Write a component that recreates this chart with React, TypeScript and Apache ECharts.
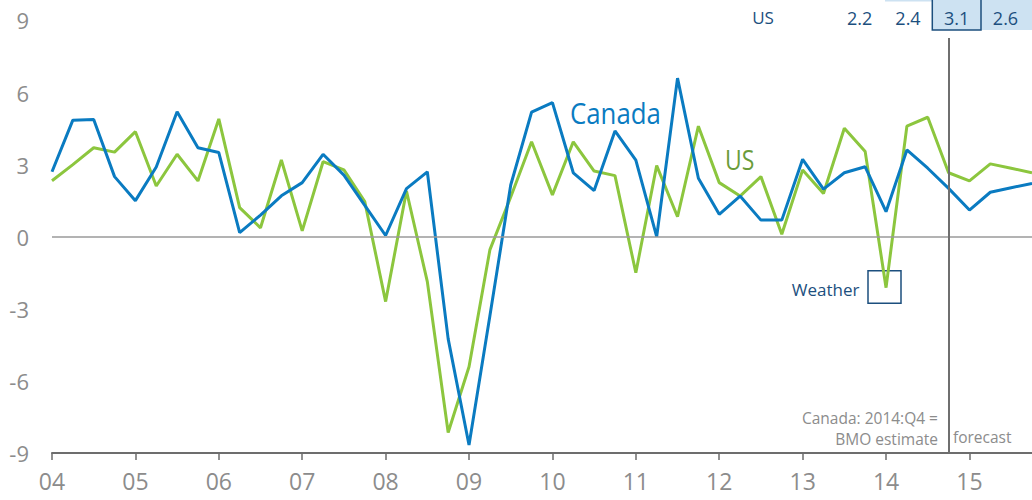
import React, { useEffect, useRef } from "react";
import * as echarts from "echarts";

const years = ["04", "05", "06", "07", "08", "09", "10", "11", "12", "13", "14", "15"];
const quarters = ["Q1", "Q2", "Q3", "Q4"];
const categories = years.flatMap((y) => quarters.map((q) => y + q));

const canada = [
  2.7, 4.85, 4.88, 2.5, 1.5, 2.9, 5.2, 3.7, 3.5, 0.17, 0.9, 1.7,
  2.25, 3.43, 2.56, 1.3, 0.05, 2.0, 2.7, -4.25, -8.67, -3.3, 2.15, 5.18,
  5.58, 2.66, 1.92, 4.4, 3.19, 0.0, 6.6, 2.43, 0.93, 1.69, 0.69, 0.69,
  3.22, 1.98, 2.66, 2.91, 1.04, 3.61, 2.85, 2.01, 1.11, 1.85, 2.04, 2.22,
];
const us = [
  2.33, 3.0, 3.7, 3.52, 4.37, 2.11, 3.43, 2.32, 4.9, 1.21, 0.37, 3.19,
  0.24, 3.12, 2.78, 1.46, -2.7, 1.9, -1.87, -8.15, -5.41, -0.55, 1.65, 3.95,
  1.74, 3.95, 2.73, 2.54, -1.5, 2.96, 0.83, 4.6, 2.25, 1.69, 2.5, 0.1,
  2.78, 1.8, 4.51, 3.54, -2.12, 4.6, 4.97, 2.66, 2.32, 3.03, 2.85, 2.66,
];
const yTicks = { min: -9, max: 9, interval: 3 };
const forecastStart = "14Q4";
const tableRowLabel = "US";
const tableValues = ["2.2", "2.4", "3.1", "2.6"];
const noteLines = ["Canada: 2014:Q4 =", "BMO estimate"];
const forecastLabel = "forecast";
const weatherLabel = "Weather";

const FONT = "'Open Sans', 'Noto Sans', sans-serif";
const BLUE = "#0a7bc1";
const GREEN = "#8cc63e";
const NAVY = "#1c4f7e";
const GREY = "#8c8c8c";
const LIGHT = "#cde2f2";

export default function App() {
  const ref = useRef<HTMLDivElement>(null);
  useEffect(() => {
    if (!ref.current) return;
    const chart = echarts.init(ref.current, undefined, { renderer: "svg" });
    const isYearTick = (i: number) => i % 4 === 0;
    const tableX = [859.7, 908, 956.7, 1005.5];
    const option: any = {
      animation: false,
      grid: { left: 52, right: 0, top: 20.4, bottom: 47, containLabel: false },
      xAxis: {
        type: "category",
        data: categories,
        boundaryGap: false,
        axisLine: { onZero: false, lineStyle: { color: "#6d6d6d", width: 2 } },
        axisTick: { interval: (i: number) => isYearTick(i), length: 7, lineStyle: { color: "#6d6d6d", width: 1.5 } },
        axisLabel: {
          interval: (i: number) => isYearTick(i),
          formatter: (v: string) => v.slice(0, 2),
          color: GREY,
          fontSize: 23,
          fontFamily: FONT,
          margin: 16,
        },
        splitLine: { show: false },
      },
      yAxis: {
        type: "value",
        min: yTicks.min,
        max: yTicks.max,
        interval: yTicks.interval,
        axisLine: { show: false },
        axisTick: { show: false },
        splitLine: { show: false },
        axisLabel: { color: GREY, fontSize: 22, fontFamily: FONT, margin: 23 },
      },
      series: [
        {
          name: "US",
          type: "line",
          data: us,
          symbol: "none",
          lineStyle: { color: GREEN, width: 3 },
          itemStyle: { color: GREEN },
          markLine: {
            silent: true,
            symbol: ["none", "none"],
            label: { show: false },
            data: [
              { yAxis: 0, lineStyle: { color: "#9a9a9a", width: 1.5, type: "solid" } },
              [
                { coord: [forecastStart, 8.27], lineStyle: { color: "#6f6f6f", width: 2, type: "solid" } },
                { coord: [forecastStart, yTicks.min] },
              ],
            ],
          },
          z: 2,
        },
        {
          name: "Canada",
          type: "line",
          data: canada,
          symbol: "none",
          lineStyle: { color: BLUE, width: 3 },
          itemStyle: { color: BLUE },
          z: 3,
        },
      ],
      graphic: [
        { type: "text", x: 570, y: 112, scaleX: 0.86, style: { text: "Canada", fill: BLUE, fontSize: 30, fontFamily: FONT, align: "left", verticalAlign: "middle" } },
        { type: "text", x: 725, y: 160, scaleX: 0.82, style: { text: "US", fill: "#6a9c3a", fontSize: 28, fontFamily: FONT, align: "left", verticalAlign: "middle" } },
        { type: "text", x: 859.5, y: 289.5, style: { text: weatherLabel, fill: NAVY, fontSize: 17, fontFamily: FONT, align: "right", verticalAlign: "middle" } },
        { type: "rect", shape: { x: 868, y: 270.7, width: 33, height: 32.6 }, style: { fill: "none", stroke: NAVY, lineWidth: 1.5 } },
        { type: "text", x: 938, y: 418, style: { text: noteLines[0], fill: GREY, fontSize: 15.5, fontFamily: FONT, align: "right", verticalAlign: "middle" } },
        { type: "text", x: 938, y: 439, style: { text: noteLines[1], fill: GREY, fontSize: 15.5, fontFamily: FONT, align: "right", verticalAlign: "middle" } },
        { type: "text", x: 953, y: 437, style: { text: forecastLabel, fill: GREY, fontSize: 15.5, fontFamily: FONT, align: "left", verticalAlign: "middle" } },
        { type: "rect", shape: { x: 885, y: 0, width: 47, height: 1.5 }, style: { fill: LIGHT } },
        { type: "rect", shape: { x: 981, y: 0, width: 51, height: 30 }, style: { fill: LIGHT } },
        { type: "rect", shape: { x: 932.3, y: -2, width: 48.7, height: 32 }, style: { fill: LIGHT, stroke: NAVY, lineWidth: 1.5 } },
        { type: "text", x: 763, y: 17.5, style: { text: tableRowLabel, fill: NAVY, fontSize: 17, fontFamily: FONT, align: "center", verticalAlign: "middle" } },
        ...tableValues.map((v, i) => ({
          type: "text",
          x: tableX[i],
          y: 17.5,
          style: { text: v, fill: NAVY, fontSize: 18, fontFamily: FONT, align: "center", verticalAlign: "middle" },
        })),
      ],
    };
    chart.setOption(option);
    return () => chart.dispose();
  }, []);
  return (
    <div
      ref={ref}
      style={{ position: "fixed", left: 0, top: 0, width: 1032, height: 500, background: "#fff" }}
    />
  );
}
